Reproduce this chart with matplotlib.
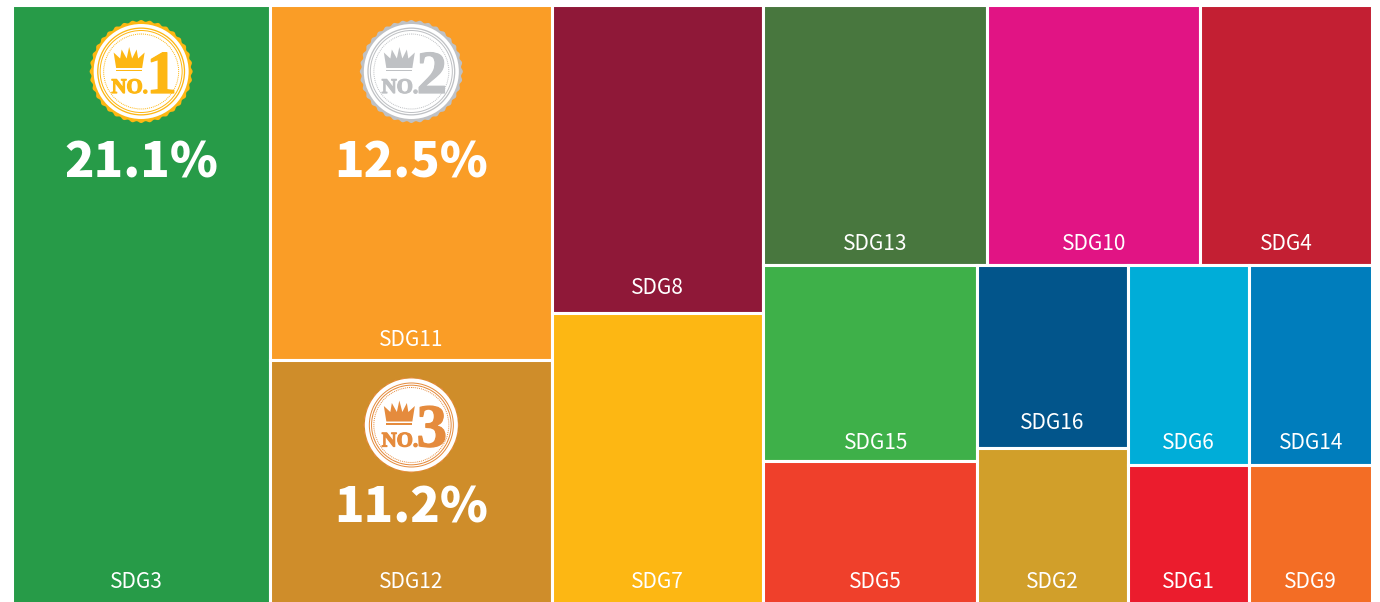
import numpy as np
import matplotlib
matplotlib.use("Agg")
import matplotlib.pyplot as plt
import matplotlib.patheffects as pe
from matplotlib.patches import Rectangle, Circle, Polygon

# share of each goal, read from the tile areas
sdg_names = ["SDG3", "SDG11", "SDG12", "SDG8", "SDG7", "SDG13", "SDG10", "SDG4",
             "SDG15", "SDG5", "SDG16", "SDG2", "SDG6", "SDG14", "SDG1", "SDG9"]
sdg_values = [18.97, 12.30, 8.42, 7.97, 7.53, 7.15, 6.83, 5.51,
              5.14, 3.72, 3.39, 2.89, 2.96, 3.03, 2.05, 2.10]
sdg_colors = ["#279B48", "#FA9D26", "#CF8D2A", "#8F1838", "#FDB713", "#48773E",
              "#E11484", "#C31F33", "#3EB049", "#EF402B", "#02558B", "#D19F2A",
              "#00ADD8", "#007DBC", "#EB1C2D", "#F36D25"]

# top three
top_names = ["SDG3", "SDG11", "SDG12"]
top_labels = ["21.1%", "12.5%", "11.2%"]
top_ranks = ["1", "2", "3"]

values = dict(zip(sdg_names, sdg_values))
colors = dict(zip(sdg_names, sdg_colors))

# treemap nesting: "h" puts children side by side, "v" stacks them
tree = ("h", ["SDG3",
              ("v", ["SDG11", "SDG12"]),
              ("v", ["SDG8", "SDG7"]),
              ("v", [("h", ["SDG13", "SDG10", "SDG4"]),
                     ("h", [("v", ["SDG15", "SDG5"]),
                            ("v", ["SDG16", "SDG2"]),
                            ("v", [("h", ["SDG6", "SDG14"]),
                                   ("h", ["SDG1", "SDG9"])])])])])


def total(node):
    if isinstance(node, str):
        return values[node]
    return sum(total(c) for c in node[1])


def layout(node, x, y, w, h, out):
    if isinstance(node, str):
        out[node] = (x, y, w, h)
        return
    direction, children = node
    s = total(node)
    for c in children:
        f = total(c) / s
        if direction == "h":
            layout(c, x, y, w * f, h, out)
            x += w * f
        else:
            layout(c, x, y, w, h * f, out)
            y += h * f


# label offsets from the default spot (centre, 20px above the tile bottom)
nudge = {"SDG3": (-4, 0), "SDG15": (6, 2), "SDG5": (6, 0), "SDG8": (0, -5),
         "SDG16": (0, -5), "SDG6": (0, -2), "SDG14": (0, -2), "SDG13": (0, -1),
         "SDG10": (1, -1), "SDG4": (0, -1)}

LABEL_FONT = ["Noto Sans CJK JP", "DejaVu Sans"]
SERIF = "Liberation Serif"

# medal colours and sizes
WHITE = "white"
medal_accent = {"1": "#FDB713", "2": "#BFC1C4", "3": "#E58B3D"}
medal_size = {"1": 51.5, "2": 51.5, "3": 48}
medal_center_y = {"1": 71.5, "2": 71.5, "3": 425}
pct_center_y = {"1": 163, "2": 163, "3": 508}

crown = [(-25, -3.5), (-27.5, -19), (-21, -13), (-19.5, -22), (-14.5, -13), (-12, -24.5),
         (-9, -13), (-4.5, -22), (-3, -13), (3.5, -19), (1, -3.5)]


def draw_medal(ax, cx, cy, rank):
    col = medal_accent[rank]
    R = medal_size[rank]
    th = np.linspace(0, 2 * np.pi, 720)
    r = R - 0.8 + 0.8 * np.cos(36 * th)
    ax.add_patch(Polygon(np.c_[cx + r * np.cos(th), cy + r * np.sin(th)],
                         fc=col, ec="none", zorder=3))
    if rank == "3":
        rings = [(46.5, WHITE), (42.5, col), (41.5, WHITE), (40.3, col), (39.3, WHITE)]
    else:
        rings = [(47.5, WHITE), (44, col), (42.7, WHITE), (41.5, col), (40.5, WHITE)]
    for i, (rad, c) in enumerate(rings):
        ax.add_patch(Circle((cx, cy), rad, fc=c, ec="none", zorder=4 + i * 0.1))
    ax.add_patch(Circle((cx, cy), 37.5, fc="none", ec=col, lw=0.7, ls=(0, (1, 1)), zorder=5))
    ax.add_patch(Polygon([(cx + a, cy + b) for a, b in crown], fc=col, ec="none", zorder=6))
    ax.add_patch(Rectangle((cx - 25, cy - 1.6), 26, 1.6, fc=col, ec="none", zorder=6))
    # the original numerals are a fat face, so thicken the serif a little
    fat = [pe.withStroke(linewidth=0.9, foreground=col)]
    ax.text(cx - 11.5, cy + 21.5, "NO.", ha="center", va="baseline", color=col, fontsize=15,
            family=SERIF, fontweight="bold", zorder=7, path_effects=fat)
    ax.text(cx + 20.5, cy + 21.5, rank, ha="center", va="baseline", color=col, fontsize=44,
            family=SERIF, fontweight="bold", zorder=7, path_effects=fat)


fig = plt.figure(figsize=(13.8, 6.02), dpi=100)
ax = fig.add_axes([0, 0, 1, 1])
ax.set_xlim(0, 1380)
ax.set_ylim(602, 0)
ax.axis("off")

rects = {}
layout(tree, 11.5, 4.5, 1361, 599, rects)

for name in sdg_names:
    x, y, w, h = rects[name]
    ax.add_patch(Rectangle((x, y), w, h, fc=colors[name], ec="white", lw=2.2, zorder=1))
    dx, dy = nudge.get(name, (0, 0))
    ax.text(x + w / 2 + dx, min(y + h, 602) - 20 + dy, name, ha="center", va="center",
            color="white", fontsize=15, family=LABEL_FONT, zorder=2)

for name, pct, rank in zip(top_names, top_labels, top_ranks):
    x, y, w, h = rects[name]
    cx = x + w / 2 + 0.5
    draw_medal(ax, cx, medal_center_y[rank], rank)
    ax.text(cx, pct_center_y[rank], pct, ha="center", va="center", color="white",
            fontsize=35, family=LABEL_FONT, fontweight="black", zorder=2)

fig.savefig("out.png", dpi=100)
